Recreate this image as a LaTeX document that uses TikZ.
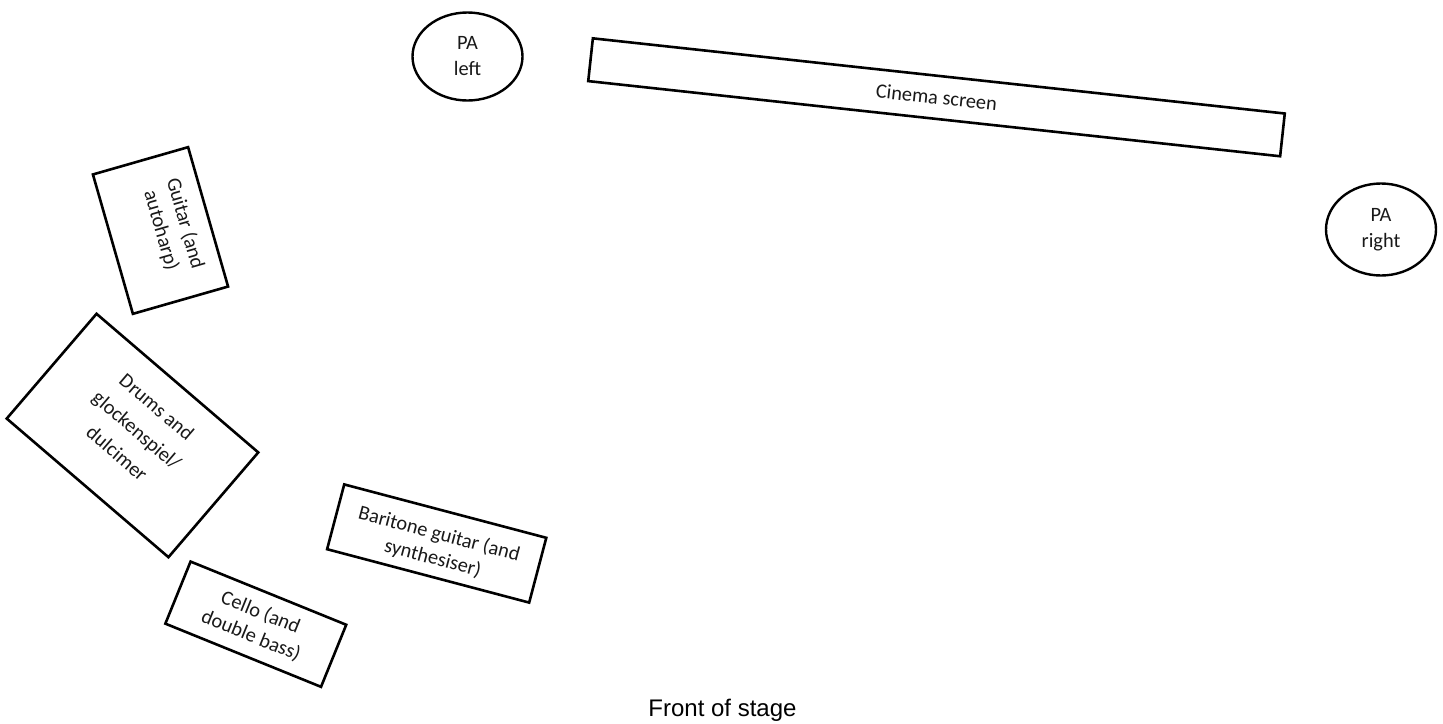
\documentclass[tikz,border=0pt]{standalone}
\usepackage{fontspec}
\newfontfamily\calib{Carlito}
\newfontfamily\arialf{Liberation Sans}
\usetikzlibrary{shapes.geometric}
\tikzset{
  box/.style={draw, rectangle, line width=2.6pt, inner sep=0pt},
  lbl/.style={font=\calib\fontsize{20.4}{25}\selectfont, align=center, inner sep=0pt, text=black!90},
  spk/.style={draw, ellipse, line width=2.4pt, minimum width=110pt, minimum height=88pt, inner sep=0pt,
    font=\calib\fontsize{20.4}{26}\selectfont, align=center, text=black!90},
}
\begin{document}
\begin{tikzpicture}[x=1pt,y=1pt]
\useasboundingbox (0,0) rectangle (1443,-723);
% PA speakers
\node[spk] (pal) at (467.5,-56.5) {PA\\left};
\node[spk, minimum height=92pt] (par) at (1381,-229.5) {PA\\right};
% Cinema screen
\begin{scope}[shift={(936.5,-97.3)}, rotate=-6.2, transform shape]
  \node[box, minimum width=696pt, minimum height=43pt] (screen) at (0,0) {};
  \node[lbl] (screent) at (0,0) {Cinema screen};
\end{scope}
% Guitar
\begin{scope}[shift={(160.5,-230.5)}, rotate=-74, transform shape]
  \node[box, minimum width=145pt, minimum height=99pt] (guitar) at (0,0) {};
  \node[lbl] (guitart) at (0,13) {Guitar (and\\autoharp)};
\end{scope}
% Drums
\begin{scope}[shift={(132.5,-435.5)}, rotate=-40.6, transform shape]
  \node[box, minimum width=213pt, minimum height=138pt] (drums) at (0,0) {};
  \node[lbl, font=\calib\fontsize{20.4}{30.5}\selectfont] (drumst) at (0,7) {Drums and\\glockenspiel/\\dulcimer};
\end{scope}
% Cello
\begin{scope}[shift={(255.8,-624.2)}, rotate=-22.1, transform shape]
  \node[box, minimum width=168pt, minimum height=67pt] (cello) at (0,0) {};
  \node[lbl] (cellot) at (0,0) {Cello (and\\double bass)};
\end{scope}
% Baritone
\begin{scope}[shift={(436.7,-543.5)}, rotate=-14.8, transform shape]
  \node[box, minimum width=209pt, minimum height=67pt] (bari) at (0,0) {};
  \node[lbl] (barit) at (0,-3) {Baritone guitar (and\\synthesiser)};
\end{scope}
% Front of stage
\node[font=\arialf\fontsize{24}{28}\selectfont, inner sep=0pt] (front) at (722.5,-710) {Front of stage};
\end{tikzpicture}
\end{document}
